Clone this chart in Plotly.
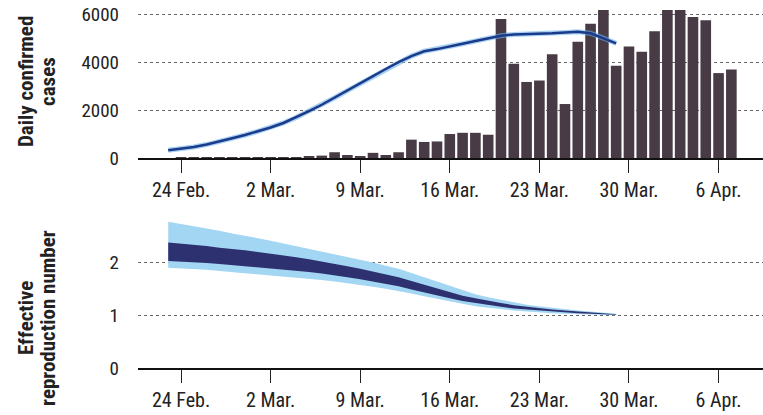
import plotly.graph_objects as go
import pandas as pd

# daily confirmed cases, 24 Feb - 7 Apr
case_dates = pd.date_range("2020-02-24", "2020-04-07", freq="D")
cases = [5, 10, 15, 10, 20, 15, 40, 15, 20, 25, 45,
         100, 240, 125, 55, 215, 125, 240, 765, 670, 690,
         1000, 1050, 1050, 970, 5800, 3930, 3170, 3230, 4330, 2250,
         4850, 5600, 6300, 3850, 4650, 4430, 5280, 6300, 6300, 5880,
         5740, 3540, 3690]

# smoothed trend and R estimate, 23 Feb - 29 Mar
est_dates = pd.date_range("2020-02-23", "2020-03-29", freq="D")
trend = [320, 380, 460, 560, 680, 820, 960, 1110, 1270, 1460, 1690, 1950,
         2220, 2510, 2810, 3110, 3410, 3710, 4000, 4250, 4450, 4540, 4640,
         4760, 4880, 5000, 5100, 5150, 5160, 5170, 5200, 5230, 5260, 5200,
         5000, 4780]

r_lo95 = [1.90, 1.89, 1.87, 1.86, 1.84, 1.82, 1.80, 1.78, 1.76, 1.74, 1.72,
          1.70, 1.67, 1.64, 1.61, 1.58, 1.54, 1.50, 1.46,
          1.41, 1.36, 1.31, 1.26, 1.21, 1.17, 1.14, 1.11, 1.09, 1.07, 1.05,
          1.04, 1.03, 1.02, 1.01, 1.00, 1.00]
r_lo50 = [2.03, 2.02, 2.00, 1.99, 1.97, 1.95, 1.93, 1.91, 1.89, 1.87, 1.85,
          1.82, 1.79, 1.76, 1.72, 1.68, 1.64, 1.59, 1.55,
          1.49, 1.43, 1.37, 1.32, 1.27, 1.23, 1.19, 1.16, 1.13, 1.11, 1.09,
          1.07, 1.05, 1.04, 1.03, 1.02, 1.01]
r_hi50 = [2.38, 2.36, 2.33, 2.31, 2.28, 2.26, 2.23, 2.20, 2.17, 2.14, 2.10,
          2.06, 2.02, 1.98, 1.93, 1.88, 1.83, 1.77, 1.72,
          1.65, 1.58, 1.50, 1.43, 1.37, 1.32, 1.27, 1.23, 1.19, 1.16, 1.13,
          1.11, 1.09, 1.07, 1.05, 1.04, 1.02]
r_hi95 = [2.77, 2.73, 2.69, 2.64, 2.60, 2.55, 2.51, 2.46, 2.41, 2.36, 2.31,
          2.26, 2.21, 2.16, 2.11, 2.05, 2.00, 1.94, 1.88,
          1.80, 1.72, 1.63, 1.55, 1.47, 1.40, 1.34, 1.29, 1.24, 1.20, 1.17,
          1.14, 1.11, 1.09, 1.07, 1.05, 1.03]

tick_dates = ["2020-02-24", "2020-03-02", "2020-03-09", "2020-03-16",
              "2020-03-23", "2020-03-30", "2020-04-06"]
tick_text = ["24 Feb.", "2 Mar.", "9 Mar.", "16 Mar.", "23 Mar.", "30 Mar.", "6 Apr."]

FONT = "Liberation Sans Narrow, Roboto Condensed, DejaVu Sans Condensed, Roboto, sans-serif"

fig = go.Figure()

# top panel
fig.add_trace(go.Bar(x=case_dates, y=cases, marker_color="#483b46",
                     marker_line_width=0, xaxis="x", yaxis="y"))
fig.add_trace(go.Scatter(x=est_dates, y=trend, mode="lines",
                         line=dict(color="rgba(110,180,235,0.6)", width=5),
                         xaxis="x", yaxis="y"))
fig.add_trace(go.Scatter(x=est_dates, y=trend, mode="lines",
                         line=dict(color="#1c3a8a", width=2.5),
                         xaxis="x", yaxis="y"))

# bottom panel: R bands
fig.add_trace(go.Scatter(x=est_dates, y=r_lo95, mode="lines", line=dict(width=0),
                         xaxis="x2", yaxis="y2"))
fig.add_trace(go.Scatter(x=est_dates, y=r_hi95, mode="lines", line=dict(width=0),
                         fill="tonexty", fillcolor="#a2d6f3", xaxis="x2", yaxis="y2"))
fig.add_trace(go.Scatter(x=est_dates, y=r_lo50, mode="lines", line=dict(width=0),
                         xaxis="x2", yaxis="y2"))
fig.add_trace(go.Scatter(x=est_dates, y=r_hi50, mode="lines", line=dict(width=0),
                         fill="tonexty", fillcolor="#2e3170", xaxis="x2", yaxis="y2"))

x_range = ["2020-02-20 15:20", "2020-04-09 11:20"]
xcommon = dict(range=x_range, type="date", tickvals=tick_dates, ticktext=tick_text,
               ticks="outside", ticklen=13, tickwidth=1, tickcolor="#222",
               showline=True, linecolor="#111", linewidth=1.5, showgrid=False,
               tickfont=dict(family=FONT, size=20, color="#222"))
ycommon = dict(showgrid=True, gridcolor="#666", griddash="dot", gridwidth=1,
               zeroline=False, ticks="", ticklabelstandoff=18,
               tickfont=dict(family=FONT, size=19, color="#222"))

fig.update_layout(
    width=763, height=415,
    margin=dict(l=138, r=0, t=10, b=47),
    paper_bgcolor="white", plot_bgcolor="white",
    showlegend=False, barmode="overlay", bargap=0.17,
    xaxis=dict(anchor="y", **xcommon),
    yaxis=dict(domain=[0.5866, 1], range=[0, 6170], tickvals=[0, 2000, 4000, 6000],
               anchor="x", **ycommon),
    xaxis2=dict(anchor="y2", **xcommon),
    yaxis2=dict(domain=[0, 0.4274], range=[0, 2.9], tickvals=[0, 1, 2],
                anchor="x2", **ycommon),
)

# axis titles, one line per annotation so the line spacing matches
titles = [("<b>Daily confirmed</b>", -0.179, 0.799),
          ("<b>cases</b>", -0.144, 0.799),
          ("<b>Effective</b>", -0.179, 0.14),
          ("<b>reproduction number</b>", -0.144, 0.14)]
for txt, tx, ty in titles:
    fig.add_annotation(text=txt, xref="paper", yref="paper", x=tx, y=ty,
                       xanchor="center", yanchor="middle", textangle=-90,
                       showarrow=False, font=dict(family=FONT, size=21, color="#222"))

fig.write_html("out.html", config={"displayModeBar": False},
               post_script="document.body.style.margin='0';")
